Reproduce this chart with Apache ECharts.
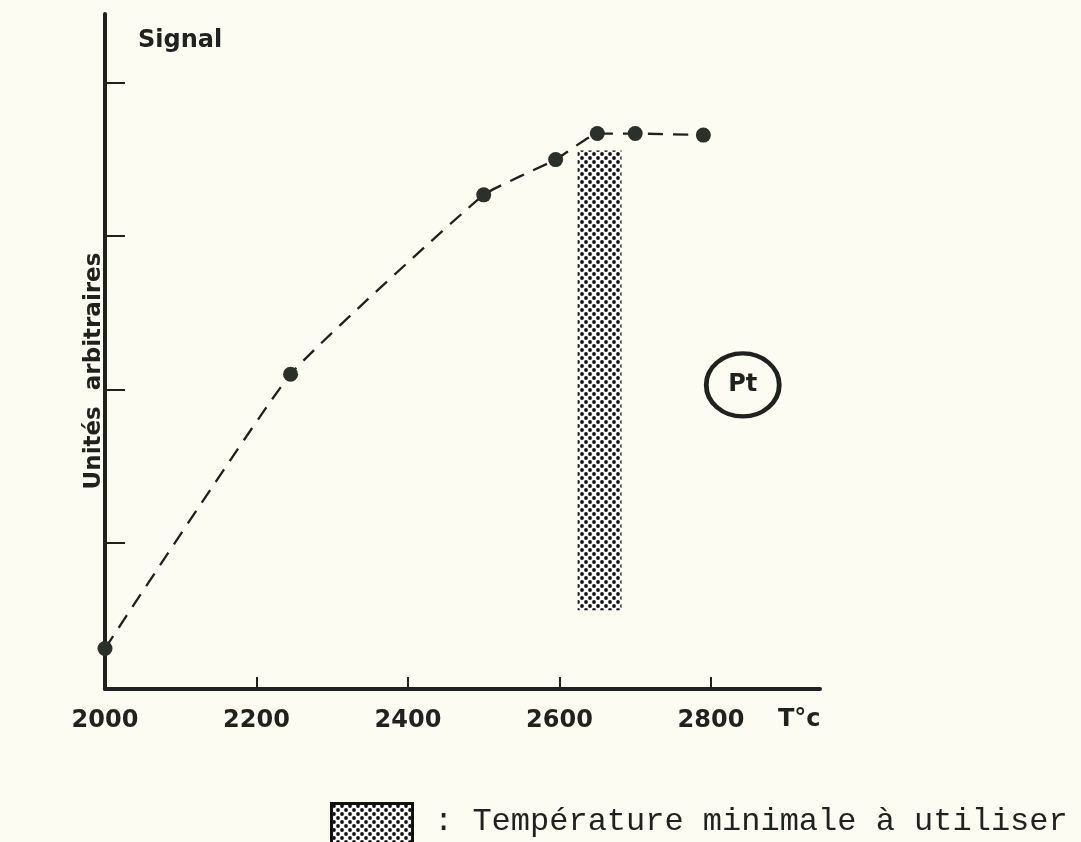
<!DOCTYPE html>
<html>
<head>
<meta charset="utf-8">
<script src="https://cdn.jsdelivr.net/npm/echarts@6/dist/echarts.min.js"></script>
<style>
html,body{margin:0;padding:0;background:#fdfcf2;}
#chart{width:1081px;height:842px;}
</style>
</head>
<body>
<div id="chart"></div>
<script>
// ---- data ----
var temps = [2000, 2245, 2500, 2595, 2650, 2700, 2790];
var signal = [0.31, 2.10, 3.27, 3.50, 3.67, 3.67, 3.66];
var xTickLabels = [2000, 2200, 2400, 2600, 2800];
var xTicks = [2200, 2400, 2600, 2800];
var yTicks = [1, 2, 3, 4];
var minTempBand = [2624, 2682];      // x range of shaded band
var minTempBandY = [0.56, 3.56];     // y range of shaded band
var ptLabelPos = [2842, 2.03];
var xTitle = 'T°c';
var yTitle = 'Unités  arbitraires';
var topTitle = 'Signal';
var legendText = ': Température minimale à utiliser';

function makePattern() {
  var s = 8, r = 1.9;
  var c = document.createElement('canvas');
  c.width = s; c.height = s;
  var ctx = c.getContext('2d');
  ctx.fillStyle = '#ffffff';
  ctx.fillRect(0, 0, s, s);
  ctx.fillStyle = '#141414';
  [[2, 2], [6, 6], [-2, 6], [6, -2], [10, 2], [2, 10], [10, 10], [-2, -2], [10, -2], [-2, 10]].forEach(function (p) {
    ctx.beginPath(); ctx.arc(p[0], p[1], r, 0, Math.PI * 2); ctx.fill();
  });
  return c;
}
var pattern = { image: makePattern(), repeat: 'repeat' };
var ink = '#1f221f';

var chart = echarts.init(document.getElementById('chart'), null, { renderer: 'canvas' });
var option = {
  backgroundColor: '#fdfcf2',
  animation: false,
  grid: { left: 105, right: 261, top: 14, bottom: 153, containLabel: false },
  xAxis: {
    type: 'value', min: 2000, max: 2944,
    axisLine: { onZero: false, lineStyle: { color: ink, width: 4 } },
    axisTick: { inside: true, length: 12, customValues: xTicks, lineStyle: { color: ink, width: 2 } },
    axisLabel: {
      customValues: xTickLabels, margin: 20,
      formatter: function (v) { return String(v); },
      fontFamily: 'DejaVu Sans', fontWeight: 'bold', fontSize: 24, color: ink
    },
    splitLine: { show: false }
  },
  yAxis: {
    type: 'value', min: 0.046, max: 4.45,
    axisLine: { onZero: false, lineStyle: { color: ink, width: 4 } },
    axisTick: { inside: true, length: 20, customValues: yTicks, lineStyle: { color: ink, width: 2 } },
    axisLabel: { show: false },
    splitLine: { show: false }
  },
  series: [
    {
      type: 'line',
      data: temps.map(function (t, i) { return [t, signal[i]]; }),
      smooth: 0.12,
      symbol: 'circle', symbolSize: 15,
      itemStyle: { color: '#2b302b' },
      lineStyle: { color: ink, width: 2.3, type: [15, 10] },
      z: 3,
      markArea: {
        silent: true,
        itemStyle: { color: pattern, opacity: 1 },
        data: [[{ xAxis: minTempBand[0], yAxis: minTempBandY[0] },
                { xAxis: minTempBand[1], yAxis: minTempBandY[1] }]]
      }
    },
    {
      type: 'scatter',
      data: [ptLabelPos],
      symbol: 'circle',
      symbolSize: [73, 63],
      silent: true,
      itemStyle: { color: 'rgba(0,0,0,0)', borderColor: ink, borderWidth: 4.5, opacity: 1 },
      label: {
        show: true, position: 'inside', formatter: 'Pt',
        fontFamily: 'DejaVu Sans', fontWeight: 'bold', fontSize: 24, color: ink
      }
    }
  ],
  graphic: [
    { type: 'text', left: 138, top: 29,
      style: { text: topTitle, fontFamily: 'DejaVu Sans', fontWeight: 'bold', fontSize: 24, fill: ink } },
    { type: 'text', x: 94, y: 371, rotation: Math.PI / 2,
      style: { text: yTitle, fontFamily: 'DejaVu Sans', fontWeight: 'bold', fontSize: 23, fill: ink,
               align: 'center', verticalAlign: 'middle' } },
    { type: 'text', x: 778, y: 720,
      style: { text: xTitle, fontFamily: 'DejaVu Sans', fontWeight: 'bold', fontSize: 24, fill: ink,
               align: 'left', verticalAlign: 'middle' } },
    { type: 'rect', shape: { x: 331.5, y: 803.5, width: 81, height: 40 },
      style: { fill: pattern, stroke: '#111', lineWidth: 3 } },
    { type: 'text', x: 434, y: 822,
      style: { text: legendText, fontFamily: 'Liberation Mono', fontSize: 32, fill: ink,
               align: 'left', verticalAlign: 'middle' } }
  ]
};
chart.setOption(option);
</script>
</body>
</html>
